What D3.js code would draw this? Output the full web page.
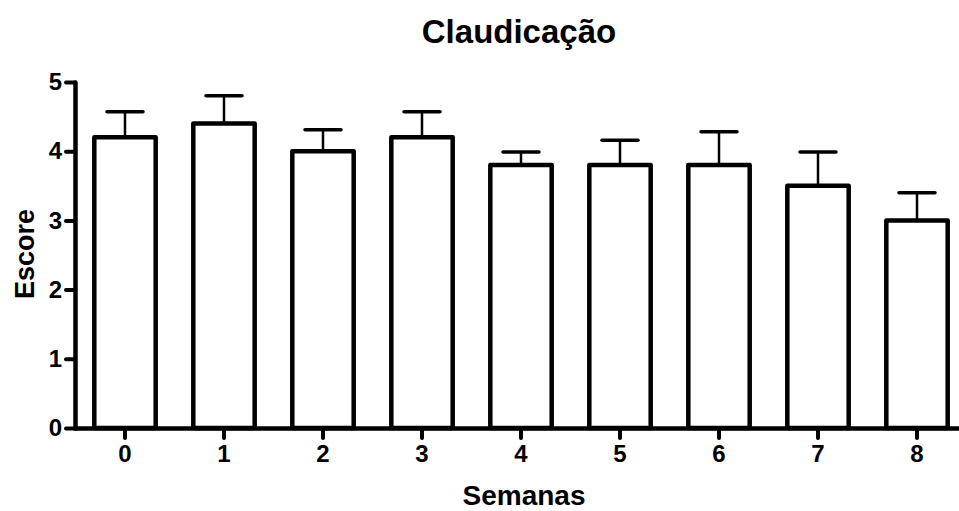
<!DOCTYPE html>
<html>
<head>
<meta charset="utf-8">
<script src="https://cdn.jsdelivr.net/npm/d3@7"></script>
<style>
  html, body { margin: 0; padding: 0; background: #fff; }
  svg { display: block; font-family: "Liberation Sans", Arial, Helvetica, sans-serif; font-weight: bold; }
</style>
</head>
<body>
<svg id="chart" width="959" height="511"></svg>
<script>
// Weekly claudication score (mean ± SEM)
const semanas = ["0", "1", "2", "3", "4", "5", "6", "7", "8"];
const escoreMedio = [4.2, 4.4, 4.0, 4.2, 3.8, 3.8, 3.8, 3.5, 3.0];
const erroPadrao = [0.37, 0.4, 0.31, 0.37, 0.19, 0.36, 0.48, 0.49, 0.4];
const yTicks = [0, 1, 2, 3, 4, 5];

(function () {
  const svg = d3.select("#chart");
  const plotLeft = 75, plotBottom = 428, plotTop = 82;

  const x = d3.scaleBand()
    .domain(semanas)
    .range([plotLeft, 967])
    .paddingInner(0.38)
    .paddingOuter(0.195);

  const y = d3.scaleLinear().domain([0, 5]).range([plotBottom, plotTop]);

  const data = semanas.map((s, i) => ({ s, m: escoreMedio[i], e: erroPadrao[i] }));
  const cx = d => x(d.s) + x.bandwidth() / 2;

  // Error bars (upper only)
  const eb = svg.append("g");
  eb.selectAll("line.stem").data(data).join("line").attr("class", "stem")
    .attr("x1", cx).attr("x2", cx)
    .attr("y1", d => y(d.m))
    .attr("y2", d => y(d.m + d.e))
    .attr("stroke", "#000").attr("stroke-width", 2.5);
  eb.selectAll("line.cap").data(data).join("line").attr("class", "cap")
    .attr("x1", d => cx(d) - 18)
    .attr("x2", d => cx(d) + 18)
    .attr("y1", d => y(d.m + d.e))
    .attr("y2", d => y(d.m + d.e))
    .attr("stroke", "#000").attr("stroke-width", 3.5)
    .attr("stroke-linecap", "round");

  // Bars
  svg.append("g").selectAll("rect").data(data).join("rect")
    .attr("x", d => x(d.s))
    .attr("y", d => y(d.m))
    .attr("width", x.bandwidth())
    .attr("height", d => y(0) - y(d.m))
    .attr("fill", "#fff")
    .attr("stroke", "#000")
    .attr("stroke-width", 4.5)
    .attr("stroke-linejoin", "round");

  const styleTicks = g => {
    g.select(".domain").attr("stroke-width", 4.5).attr("stroke-linecap", "round");
    g.selectAll(".tick line").attr("stroke-width", 4).attr("stroke-linecap", "round");
    g.selectAll(".tick text").attr("font-size", 24).attr("font-weight", "bold")
      .attr("fill", "#000").attr("font-family", "Liberation Sans, Arial, sans-serif");
  };

  // Y axis
  svg.append("g").attr("transform", `translate(${plotLeft},0)`)
    .call(d3.axisLeft(y).tickValues(yTicks).tickFormat(d3.format("d"))
      .tickSize(9).tickSizeOuter(0).tickPadding(4))
    .call(styleTicks);

  // X axis
  svg.append("g").attr("transform", `translate(0,${plotBottom})`)
    .call(d3.axisBottom(x).tickSize(10).tickSizeOuter(0).tickPadding(7))
    .call(styleTicks);

  // Titles
  svg.append("text").attr("x", 519).attr("y", 43).attr("text-anchor", "middle")
    .attr("font-size", 33).text("Claudicação");
  svg.append("text").attr("x", 524).attr("y", 505).attr("text-anchor", "middle")
    .attr("font-size", 28).text("Semanas");
  svg.append("text").attr("transform", "translate(34,254) rotate(-90)").attr("text-anchor", "middle")
    .attr("font-size", 27).text("Escore");
})();
</script>
</body>
</html>
